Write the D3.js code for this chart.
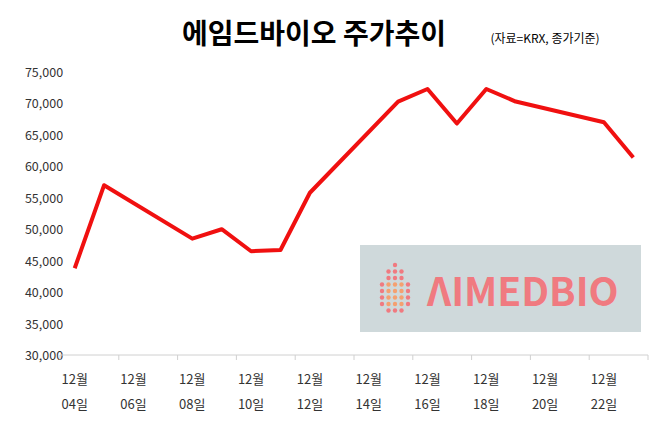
<!DOCTYPE html><html><head><meta charset="utf-8"><script src="https://cdn.jsdelivr.net/npm/d3@7"></script>
<style>body{margin:0;background:#fff}text{font-family:"Noto Sans CJK KR","Noto Sans",sans-serif}</style></head><body><svg id="c" width="658" height="422"></svg><script>
const days=["04","05","08","09","10","11","12","15","16","17","18","19","22","23"];
const prices=[43800,57000,48500,50000,46500,46700,55800,70300,72300,66800,72300,70300,67000,61400];
const allDays=d3.range(4,24).map(d=>String(d).padStart(2,"0"));
const yTicks=d3.range(30000,75001,5000);
const svg=d3.select("#c");
const x=d3.scaleBand().domain(allDays).range([60,648]);
const y=d3.scaleLinear().domain([30000,75000]).range([355,72]);
svg.append("text").attr("x",314).attr("y",44).attr("text-anchor","middle").attr("font-size",28).attr("font-weight",700).text("에임드바이오 주가추이");
svg.append("text").attr("x",545).attr("y",43).attr("text-anchor","middle").attr("font-size",12).text("(자료=KRX, 종가기준)");
yTicks.forEach(t=>svg.append("text").attr("x",44).attr("y",y(t)+5).attr("text-anchor","middle").attr("font-size",12.5).attr("fill","#333").attr("font-family","Liberation Sans,sans-serif").text(d3.format(",")(t)));
svg.append("line").attr("x1",60).attr("x2",648).attr("y1",355).attr("y2",355).attr("stroke","#d0d0d0");
allDays.forEach((d,i)=>{if(i%2==0){svg.append("line").attr("x1",x(d)).attr("x2",x(d)).attr("y1",355).attr("y2",360).attr("stroke","#d0d0d0");
svg.append("text").attr("x",x(d)+x.bandwidth()/2).attr("y",384).attr("text-anchor","middle").attr("font-size",13).attr("fill","#333").text("12월");
svg.append("text").attr("x",x(d)+x.bandwidth()/2).attr("y",409).attr("text-anchor","middle").attr("font-size",13).attr("fill","#333").text(d+"일");}});
svg.append("line").attr("x1",648).attr("x2",648).attr("y1",355).attr("y2",360).attr("stroke","#d0d0d0");
const g=svg.append("g");
g.append("rect").attr("x",360).attr("y",245).attr("width",281).attr("height",87).attr("fill","#cfd9db");
const rows=[[0],[-1,0,1],[-1,0,1],[-2,-1,0,1,2],[-2,-1,0,1,2],[-2,-1,0,1,2],[-2,-1,0,1,2],[-1,0,1]];
rows.forEach((r,i)=>r.forEach(c=>g.append("circle").attr("cx",395+c*6.5).attr("cy",265+i*6.5).attr("r",2.2).attr("fill",(Math.abs(c)<=1&&i>=3&&i<=6)?"#f5a070":"#f07a80")));
g.append("text").attr("x",427).attr("y",306).attr("font-size",39).attr("font-weight",700).attr("fill","#f07a80").attr("font-family","Noto Sans,sans-serif").text("ΛIMEDBIO");
const line=d3.line().x((d,i)=>x(days[i])+x.bandwidth()/2).y(d=>y(d));
svg.append("path").datum(prices).attr("d",line).attr("fill","none").attr("stroke","#f01010").attr("stroke-width",4).attr("stroke-linejoin","round");
</script></body></html>
